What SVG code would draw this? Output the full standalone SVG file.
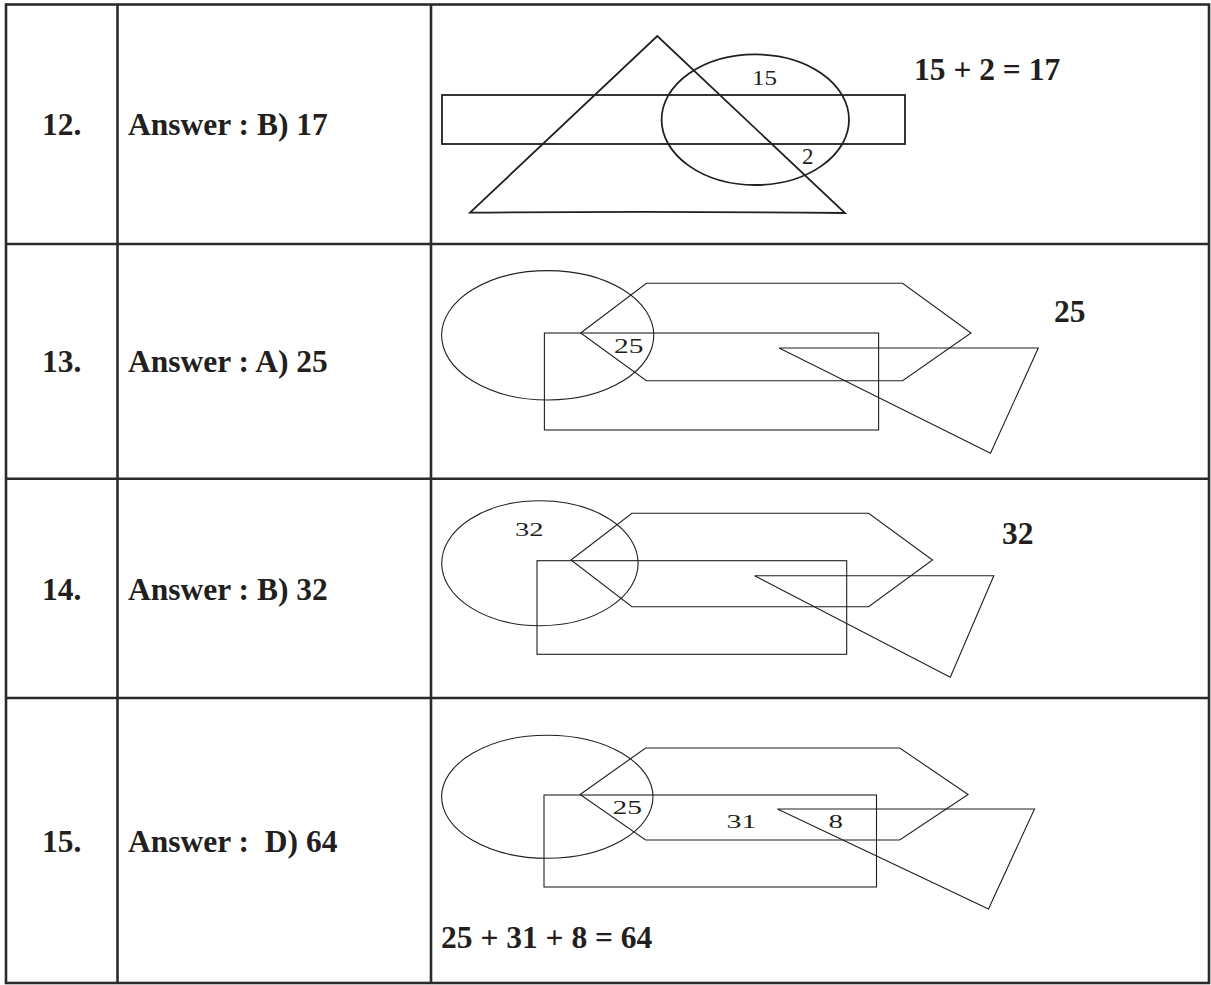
<svg xmlns="http://www.w3.org/2000/svg" width="1211" height="985" viewBox="0 0 1211 985">
<style>
.grid{fill:none;stroke:#2b2b2b;stroke-width:2.6}
.thick{fill:none;stroke:#231f20;stroke-width:1.8}
.thin{fill:none;stroke:#231f20;stroke-width:1.1}
.lab{font-family:"Liberation Serif",serif;font-weight:bold;font-size:31.5px;fill:#231f20;white-space:pre}
.num{font-family:"Liberation Serif",serif;fill:#231f20}
</style>
<rect width="1211" height="985" fill="#ffffff"/>
<g id="table">
<rect class="grid" x="6" y="4.5" width="1203" height="978.5"/>
<line class="grid" x1="117.5" y1="4.5" x2="117.5" y2="983"/>
<line class="grid" x1="431" y1="4.5" x2="431" y2="983"/>
<line class="grid" x1="6" y1="244" x2="1209" y2="244"/>
<line class="grid" x1="6" y1="478.7" x2="1209" y2="478.7"/>
<line class="grid" x1="6" y1="698" x2="1209" y2="698"/>
</g>
<g id="row12">
<text class="lab" x="42" y="135">12.</text>
<text class="lab" x="128" y="135">Answer : B) 17</text>
<rect class="thick" x="442" y="95" width="463" height="49"/>
<path class="thick" d="M470,212.7 L657.3,36 L845,213 Q657,211 470,212.7 Z"/>
<ellipse class="thick" cx="755.3" cy="119.7" rx="93.7" ry="65.3"/>
<text class="num" x="752" y="85" font-size="22" textLength="25" lengthAdjust="spacingAndGlyphs">15</text>
<text class="num" x="802" y="164" font-size="23">2</text>
<text class="lab" x="914" y="80" font-size="32">15 + 2 = 17</text>
</g>
<g id="row13">
<text class="lab" x="42" y="372">13.</text>
<text class="lab" x="128" y="372">Answer : A) 25</text>
<ellipse class="thin" cx="547.7" cy="335.3" rx="106.1" ry="64.7"/>
<polygon class="thin" points="580.7,333 646.4,283.3 902.6,283.3 971,333 902.6,380.7 646.4,380.7"/>
<rect class="thin" x="544.4" y="333" width="334.2" height="97"/>
<polygon class="thin" points="779.1,348 1038.3,348 990.5,453.3"/>
<text class="num" x="614" y="353.3" font-size="20" textLength="29.5" lengthAdjust="spacingAndGlyphs">25</text>
<text class="lab" x="1054" y="322">25</text>
</g>
<g id="row14">
<text class="lab" x="42" y="600">14.</text>
<text class="lab" x="128" y="600">Answer : B) 32</text>
<ellipse class="thin" cx="539.9" cy="563.2" rx="98.2" ry="62.5"/>
<polygon class="thin" points="571,560 631.9,513.3 868.6,513.3 932.5,560 868.6,606.7 631.9,606.7"/>
<rect class="thin" x="537" y="560.7" width="309.7" height="93.6"/>
<polygon class="thin" points="754.6,575.7 993.8,575.7 950.3,677.3"/>
<text class="num" x="515" y="536" font-size="18" textLength="28.5" lengthAdjust="spacingAndGlyphs">32</text>
<text class="lab" x="1002" y="544.3">32</text>
</g>
<g id="row15">
<text class="lab" x="42" y="851.7">15.</text>
<text class="lab" x="128" y="851.7" xml:space="preserve">Answer :  D) 64</text>
<ellipse class="thin" cx="547.3" cy="796.8" rx="105.7" ry="61.5"/>
<polygon class="thin" points="580.1,794.5 645.6,748 899.7,748 968.1,794.5 899.7,840 645.6,840"/>
<rect class="thin" x="544" y="795" width="332.5" height="92"/>
<polygon class="thin" points="777.4,809 1034.5,809 988.5,909"/>
<text class="num" x="612.5" y="814" font-size="19.5" textLength="29.5" lengthAdjust="spacingAndGlyphs">25</text>
<text class="num" x="726.5" y="827.8" font-size="18.5" textLength="30" lengthAdjust="spacingAndGlyphs">31</text>
<text class="num" x="828.5" y="828" font-size="18.5" textLength="14.5" lengthAdjust="spacingAndGlyphs">8</text>
<text class="lab" x="441" y="948.3" font-size="32">25 + 31 + 8 = 64</text>
</g>
</svg>
